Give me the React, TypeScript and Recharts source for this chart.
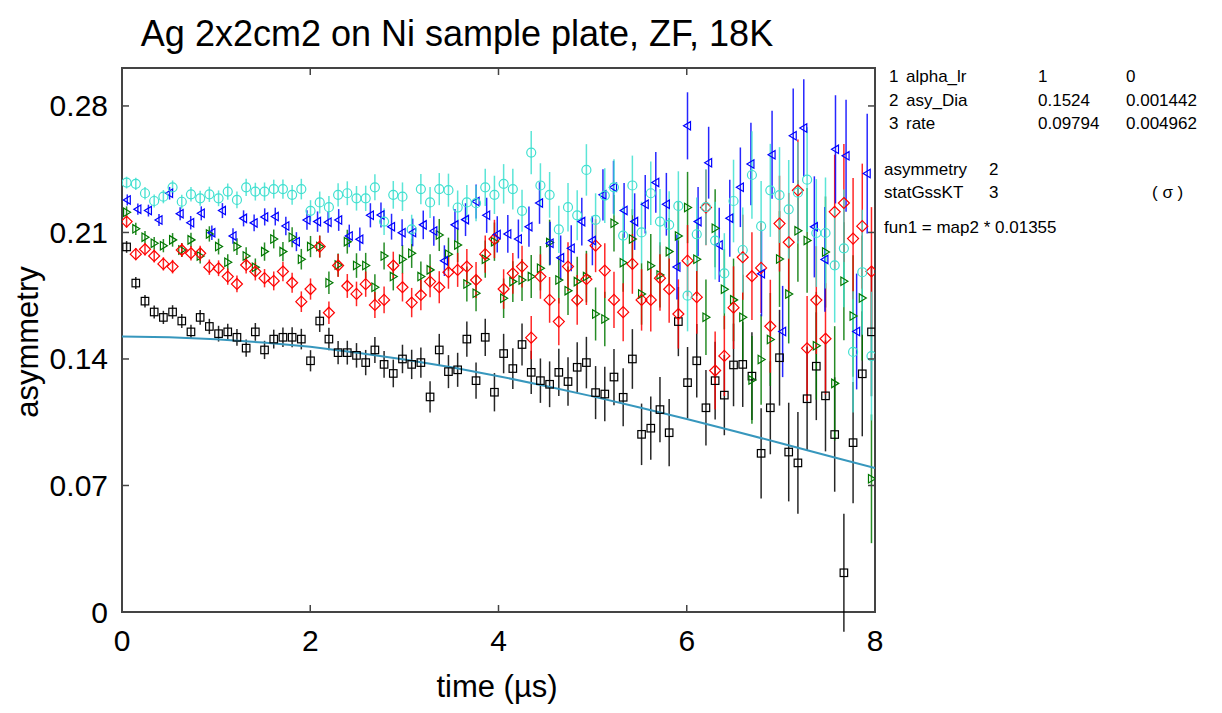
import { ComposedChart, Scatter, Line, XAxis, YAxis, ErrorBar, ReferenceArea } from 'recharts';

const FONT = '"Liberation Sans", Arial, Helvetica, sans-serif';
const W = 1222;
const H = 713;
const PLOT = { left: 122, right: 875, top: 68, bottom: 612 };

const xTicks = [0, 2, 4, 6, 8];
const yTicks = [0, 0.07, 0.14, 0.21, 0.28];

// bin widths (us) of the two packings
const binMain = 0.0977;
const binBlue = 0.1123;

const blackVals = [
  0.202, 0.182, 0.172, 0.166, 0.163, 0.166, 0.161, 0.155, 0.163, 0.158,
  0.154, 0.155, 0.152, 0.146, 0.155, 0.145, 0.151, 0.152, 0.152, 0.151,
  0.139, 0.161, 0.151, 0.1435, 0.1435, 0.142, 0.138, 0.145, 0.137, 0.132,
  0.14, 0.137, 0.138, 0.119, 0.145, 0.133, 0.134, 0.151, 0.128, 0.152,
  0.1216, 0.143, 0.1347, 0.148, 0.1326, 0.128, 0.126, 0.1326, 0.1275, 0.1354,
  0.138, 0.1214, 0.1206, 0.13, 0.1188, 0.14, 0.0983, 0.1017, 0.112, 0.0992,
  0.1607, 0.1269, 0.139, 0.113, 0.128, 0.12, 0.1367, 0.137, 0.1305, 0.0878,
  0.113, 0.1407, 0.0885, 0.0825, 0.118, 0.136, 0.1196, 0.0982, 0.0217, 0.0937,
  0.1318, 0.155,
];

const cyanVals = [
  0.2376, 0.2369, 0.2317, 0.2274, 0.2298, 0.235, 0.227, 0.2311, 0.2289, 0.2311,
  0.2289, 0.2326, 0.228, 0.235, 0.2326, 0.2326, 0.234, 0.234, 0.2308, 0.234,
  0.222, 0.2266, 0.224, 0.2308, 0.2317, 0.2289, 0.2289, 0.235, 0.216, 0.2308,
  0.2298, 0.2117, 0.234, 0.2266, 0.234, 0.2334, 0.2238, 0.2266, 0.2262, 0.235,
  0.2308, 0.2369, 0.234, 0.222, 0.2542, 0.236, 0.2308, 0.2117, 0.224, 0.2195,
  0.2446, 0.217, 0.2304, 0.235, 0.2083, 0.236, 0.21, 0.2317, 0.216, 0.2142,
  0.2247, 0.175, 0.209, 0.224, 0.2055, 0.1874, 0.2274, 0.2003, 0.2418, 0.2135,
  0.2333, 0.2307, 0.2228, 0.232, 0.2392, 0.2097, 0.2097, 0.1918, 0.2012, 0.1439,
  0.188, 0.1416,
];

const greenVals = [
  0.2212, 0.212, 0.2074, 0.204, 0.2027, 0.2059, 0.2003, 0.2059, 0.197, 0.2092,
  0.2022, 0.1935, 0.2022, 0.197, 0.1907, 0.1994, 0.2064, 0.1994, 0.2074, 0.1952,
  0.2022, 0.2022, 0.1822, 0.192, 0.2049, 0.1917, 0.1917, 0.1797, 0.197, 0.1856,
  0.1952, 0.1985, 0.1856, 0.1893, 0.2086, 0.198, 0.2031, 0.1815, 0.1764, 0.1952,
  0.2049, 0.1736, 0.1828, 0.1837, 0.1856, 0.1902, 0.2044, 0.1837, 0.1778, 0.1828,
  0.1856, 0.1649, 0.1621, 0.2151, 0.1933, 0.2064, 0.176, 0.1916, 0.1865, 0.1994,
  0.2081, 0.2238, 0.1952, 0.1631, 0.2123, 0.1786, 0.1727, 0.1631, 0.1284, 0.1397,
  0.1508, 0.1953, 0.1759, 0.2109, 0.2056, 0.1473, 0.1992, 0.1265, 0.183, 0.1638,
  0.1737, 0.0737,
];

const redVals = [
  0.216, 0.198, 0.2007, 0.197, 0.1926, 0.1911, 0.2003, 0.1985, 0.1985, 0.1908,
  0.1902, 0.1856, 0.1815, 0.192, 0.1884, 0.1847, 0.1832, 0.1884, 0.1822, 0.1717,
  0.1787, 0.2022, 0.1656, 0.1917, 0.1804, 0.176, 0.1814, 0.1699, 0.1727, 0.1917,
  0.1797, 0.1712, 0.1754, 0.1828, 0.1797, 0.188, 0.1893, 0.1911, 0.1837, 0.198,
  0.2064, 0.1787, 0.1874, 0.1911, 0.1518, 0.1856, 0.1727, 0.1607, 0.1911, 0.1727,
  0.1841, 0.2027, 0.1889, 0.1727, 0.1659, 0.1926, 0.1727, 0.1727, 0.1847, 0.1786,
  0.1649, 0.1944, 0.1742, 0.2238, 0.1336, 0.1417, 0.1684, 0.1963, 0.1858, 0.1904,
  0.1581, 0.2149, 0.2046, 0.2333, 0.1459, 0.1726, 0.1512, 0.2214, 0.2263, 0.2066,
  0.2135, 0.1884,
];

const blueVals = [
  0.228, 0.2229, 0.2221, 0.2169, 0.2317, 0.2204, 0.2154, 0.2206, 0.2099, 0.2221,
  0.2081, 0.2178, 0.2153, 0.2186, 0.2188, 0.2136, 0.2049, 0.2169, 0.216, 0.2157,
  0.2169, 0.2081, 0.2063, 0.2195, 0.2197, 0.2132, 0.2099, 0.21, 0.2142, 0.2108,
  0.1944, 0.2142, 0.2171, 0.2271, 0.2195, 0.2089, 0.2092, 0.2064, 0.2132, 0.2263,
  0.204, 0.196, 0.2013, 0.216, 0.2055, 0.2308, 0.235, 0.2222, 0.216, 0.2256,
  0.2377, 0.2256, 0.1909, 0.269, 0.216, 0.2486, 0.2031, 0.2179, 0.235, 0.2479,
  0.1872, 0.253, 0.1552, 0.2635, 0.2678, 0.2131, 0.1951, 0.256, 0.2524, 0.1552,
  0.2426,
];

const errMain = [
  0.00325, 0.00335, 0.00345, 0.00355, 0.00366, 0.00377, 0.00388, 0.004, 0.00412, 0.00424,
  0.00437, 0.0045, 0.00463, 0.00477, 0.00492, 0.00506, 0.00522, 0.00537, 0.00553, 0.0057,
  0.00587, 0.00605, 0.00623, 0.00641, 0.0066, 0.0068, 0.00701, 0.00722, 0.00743, 0.00766,
  0.00789, 0.00812, 0.00837, 0.00862, 0.00888, 0.00914, 0.00942, 0.0097, 0.00999, 0.01029,
  0.0106, 0.01092, 0.01125, 0.01158, 0.01193, 0.01229, 0.01266, 0.01304, 0.01343, 0.01383,
  0.01425, 0.01468, 0.01512, 0.01557, 0.01604, 0.01652, 0.01701, 0.01752, 0.01805, 0.01859,
  0.01915, 0.01972, 0.02031, 0.02092, 0.02155, 0.0222, 0.02286, 0.02355, 0.02425, 0.02498,
  0.02573, 0.0265, 0.0273, 0.02812, 0.02896, 0.02983, 0.03072, 0.03165, 0.0326, 0.03357,
  0.03458, 0.03562,
];

const errBlue = [
  0.00305, 0.00316, 0.00327, 0.00338, 0.0035, 0.00362, 0.00374, 0.00387, 0.00401, 0.00415,
  0.00429, 0.00444, 0.00459, 0.00475, 0.00492, 0.00509, 0.00526, 0.00545, 0.00563, 0.00583,
  0.00603, 0.00624, 0.00646, 0.00668, 0.00691, 0.00715, 0.0074, 0.00766, 0.00792, 0.0082,
  0.00848, 0.00877, 0.00908, 0.00939, 0.00972, 0.01005, 0.0104, 0.01076, 0.01114, 0.01152,
  0.01192, 0.01234, 0.01276, 0.0132, 0.01366, 0.01414, 0.01463, 0.01513, 0.01566, 0.0162,
  0.01677, 0.01735, 0.01795, 0.01857, 0.01922, 0.01988, 0.02057, 0.02129, 0.02203, 0.02279,
  0.02358, 0.0244, 0.02524, 0.02612, 0.02702, 0.02796, 0.02893, 0.02993, 0.03097, 0.03204,
  0.03315,
];

// fit curve (asymmetry * static Gaussian KT), read every 0.5 us
const fitTimes = [0, 0.5, 1, 1.5, 2, 2.5, 3, 3.5, 4, 4.5, 5, 5.5, 6, 6.5, 7, 7.5, 8];
const fitVals = [
  0.1524, 0.152, 0.1509, 0.1491, 0.1467, 0.1435, 0.1397, 0.1354, 0.1305,
  0.1251, 0.1193, 0.1132, 0.1068, 0.1001, 0.0934, 0.0865, 0.0797,
];

const toPoints = (vals: number[], errs: number[], bin: number) =>
  vals.map((v, i) => ({ t: (i + 0.5) * bin, v, e: errs[i] }));

const blackData = toPoints(blackVals, errMain, binMain);
const redData = toPoints(redVals, errMain, binMain);
const greenData = toPoints(greenVals, errMain, binMain);
const cyanData = toPoints(cyanVals, errMain, binMain);
const blueData = toPoints(blueVals, errBlue, binBlue);
const fitData = fitTimes.map((t, i) => ({ t, v: fitVals[i] }));

const BLACK = '#000000';
const RED = '#ff0000';
const GREEN = '#007800';
const BLUE = '#0000ff';
const CYAN = '#40e0d0';
const FIT = '#3797bd';

const square = (p: any) => (
  <rect x={p.cx - 3.75} y={p.cy - 3.75} width={7.5} height={7.5} fill="none" stroke={BLACK} strokeWidth={1.2} />
);
const diamond = (p: any) => (
  <polygon
    points={`${p.cx},${p.cy - 5.5} ${p.cx + 5.5},${p.cy} ${p.cx},${p.cy + 5.5} ${p.cx - 5.5},${p.cy}`}
    fill="none"
    stroke={RED}
    strokeWidth={1.2}
  />
);
const rightTri = (p: any) => (
  <polygon
    points={`${p.cx + 4},${p.cy} ${p.cx - 3},${p.cy - 4.2} ${p.cx - 3},${p.cy + 4.2}`}
    fill="none"
    stroke={GREEN}
    strokeWidth={1.2}
  />
);
const leftTri = (p: any) => (
  <polygon
    points={`${p.cx - 4},${p.cy} ${p.cx + 3},${p.cy - 4.2} ${p.cx + 3},${p.cy + 4.2}`}
    fill="none"
    stroke={BLUE}
    strokeWidth={1.2}
  />
);
const circle = (p: any) => <circle cx={p.cx} cy={p.cy} r={4.5} fill="none" stroke={CYAN} strokeWidth={1.2} />;

function YTick(props: any) {
  const { y, payload } = props;
  const label = payload.value === 0 ? '0' : payload.value.toFixed(2);
  return (
    <g>
      <text x={PLOT.left - 14} y={y + 10.5} textAnchor="end" fontSize={30} fontFamily={FONT} fill="#000">
        {label}
      </text>
      <line x1={PLOT.left} y1={y} x2={PLOT.left + 7} y2={y} stroke="#444" strokeWidth={1.5} />
      <line x1={PLOT.right - 7} y1={y} x2={PLOT.right} y2={y} stroke="#444" strokeWidth={1.5} />
    </g>
  );
}

function XTick(props: any) {
  const { x, payload } = props;
  return (
    <g>
      <text x={x} y={PLOT.bottom + 39} textAnchor="middle" fontSize={30} fontFamily={FONT} fill="#000">
        {payload.value}
      </text>
      <line x1={x} y1={PLOT.bottom} x2={x} y2={PLOT.bottom - 7} stroke="#444" strokeWidth={1.5} />
      <line x1={x} y1={PLOT.top} x2={x} y2={PLOT.top + 7} stroke="#444" strokeWidth={1.5} />
    </g>
  );
}

const params = [
  ['1', 'alpha_lr', '1', '0'],
  ['2', 'asy_Dia', '0.1524', '0.001442'],
  ['3', 'rate', '0.09794', '0.004962'],
];

export default function App() {
  const series = [
    { data: blackData, color: BLACK, shape: square, name: 'black' },
    { data: greenData, color: GREEN, shape: rightTri, name: 'green' },
    { data: redData, color: RED, shape: diamond, name: 'red' },
    { data: blueData, color: BLUE, shape: leftTri, name: 'blue' },
    { data: cyanData, color: CYAN, shape: circle, name: 'cyan' },
  ];
  return (
    <div style={{ position: 'absolute', left: 0, top: 0, width: W, height: H, background: '#fff' }}>
      <ComposedChart
        width={W}
        height={H}
        margin={{ top: PLOT.top, right: W - PLOT.right, bottom: H - PLOT.bottom - 30, left: PLOT.left - 60 }}
      >
        <XAxis
          type="number"
          dataKey="t"
          domain={[0, 8]}
          ticks={xTicks}
          interval={0}
          tickSize={0}
          tickMargin={0}
          tickLine={false}
          axisLine={false}
          tick={<XTick />}
          height={30}
          allowDataOverflow
        />
        <YAxis
          type="number"
          dataKey="v"
          domain={[0, 0.301]}
          ticks={yTicks}
          interval={0}
          tickSize={0}
          tickMargin={0}
          tickLine={false}
          axisLine={false}
          tick={<YTick />}
          width={60}
          allowDataOverflow
        />
        {series.map((s) => (
          <Scatter key={s.name} data={s.data} dataKey="v" shape={s.shape} isAnimationActive={false}>
            <ErrorBar dataKey="e" direction="y" width={0} stroke={s.color} strokeWidth={1.5} strokeOpacity={0.85} isAnimationActive={false} />
          </Scatter>
        ))}
        <Line data={fitData} dataKey="v" type="linear" stroke={FIT} strokeWidth={2} dot={false} isAnimationActive={false} />
        <ReferenceArea x1={0} x2={8} y1={0} y2={0.301} fill="none" stroke="#444" strokeWidth={2} ifOverflow="visible" />
      </ComposedChart>
      <svg width={W} height={H} style={{ position: 'absolute', left: 0, top: 0, pointerEvents: 'none' }} fontFamily={FONT}>
        <text x={457} y={46} textAnchor="middle" fontSize={36} fill="#000">
          Ag 2x2cm2 on Ni sample plate, ZF, 18K
        </text>
        <text x={497} y={697} textAnchor="middle" fontSize={31} fill="#000">
          time (µs)
        </text>
        <text transform="translate(38,342) rotate(-90)" textAnchor="middle" fontSize={31} fill="#000">
          asymmetry
        </text>
        {params.map((row, i) => (
          <g key={row[0]} fontSize={17} fill="#000">
            <text x={889} y={82 + i * 23.5}>{row[0]}</text>
            <text x={906} y={82 + i * 23.5}>{row[1]}</text>
            <text x={1038} y={82 + i * 23.5}>{row[2]}</text>
            <text x={1126} y={82 + i * 23.5}>{row[3]}</text>
          </g>
        ))}
        <g fontSize={17} fill="#000">
          <text x={884} y={175}>asymmetry</text>
          <text x={989} y={175}>2</text>
          <text x={884} y={198}>statGssKT</text>
          <text x={989} y={198}>3</text>
          <text x={1152} y={198}>( σ )</text>
          <text x={884} y={233}>fun1 = map2 * 0.01355</text>
        </g>
      </svg>
    </div>
  );
}
